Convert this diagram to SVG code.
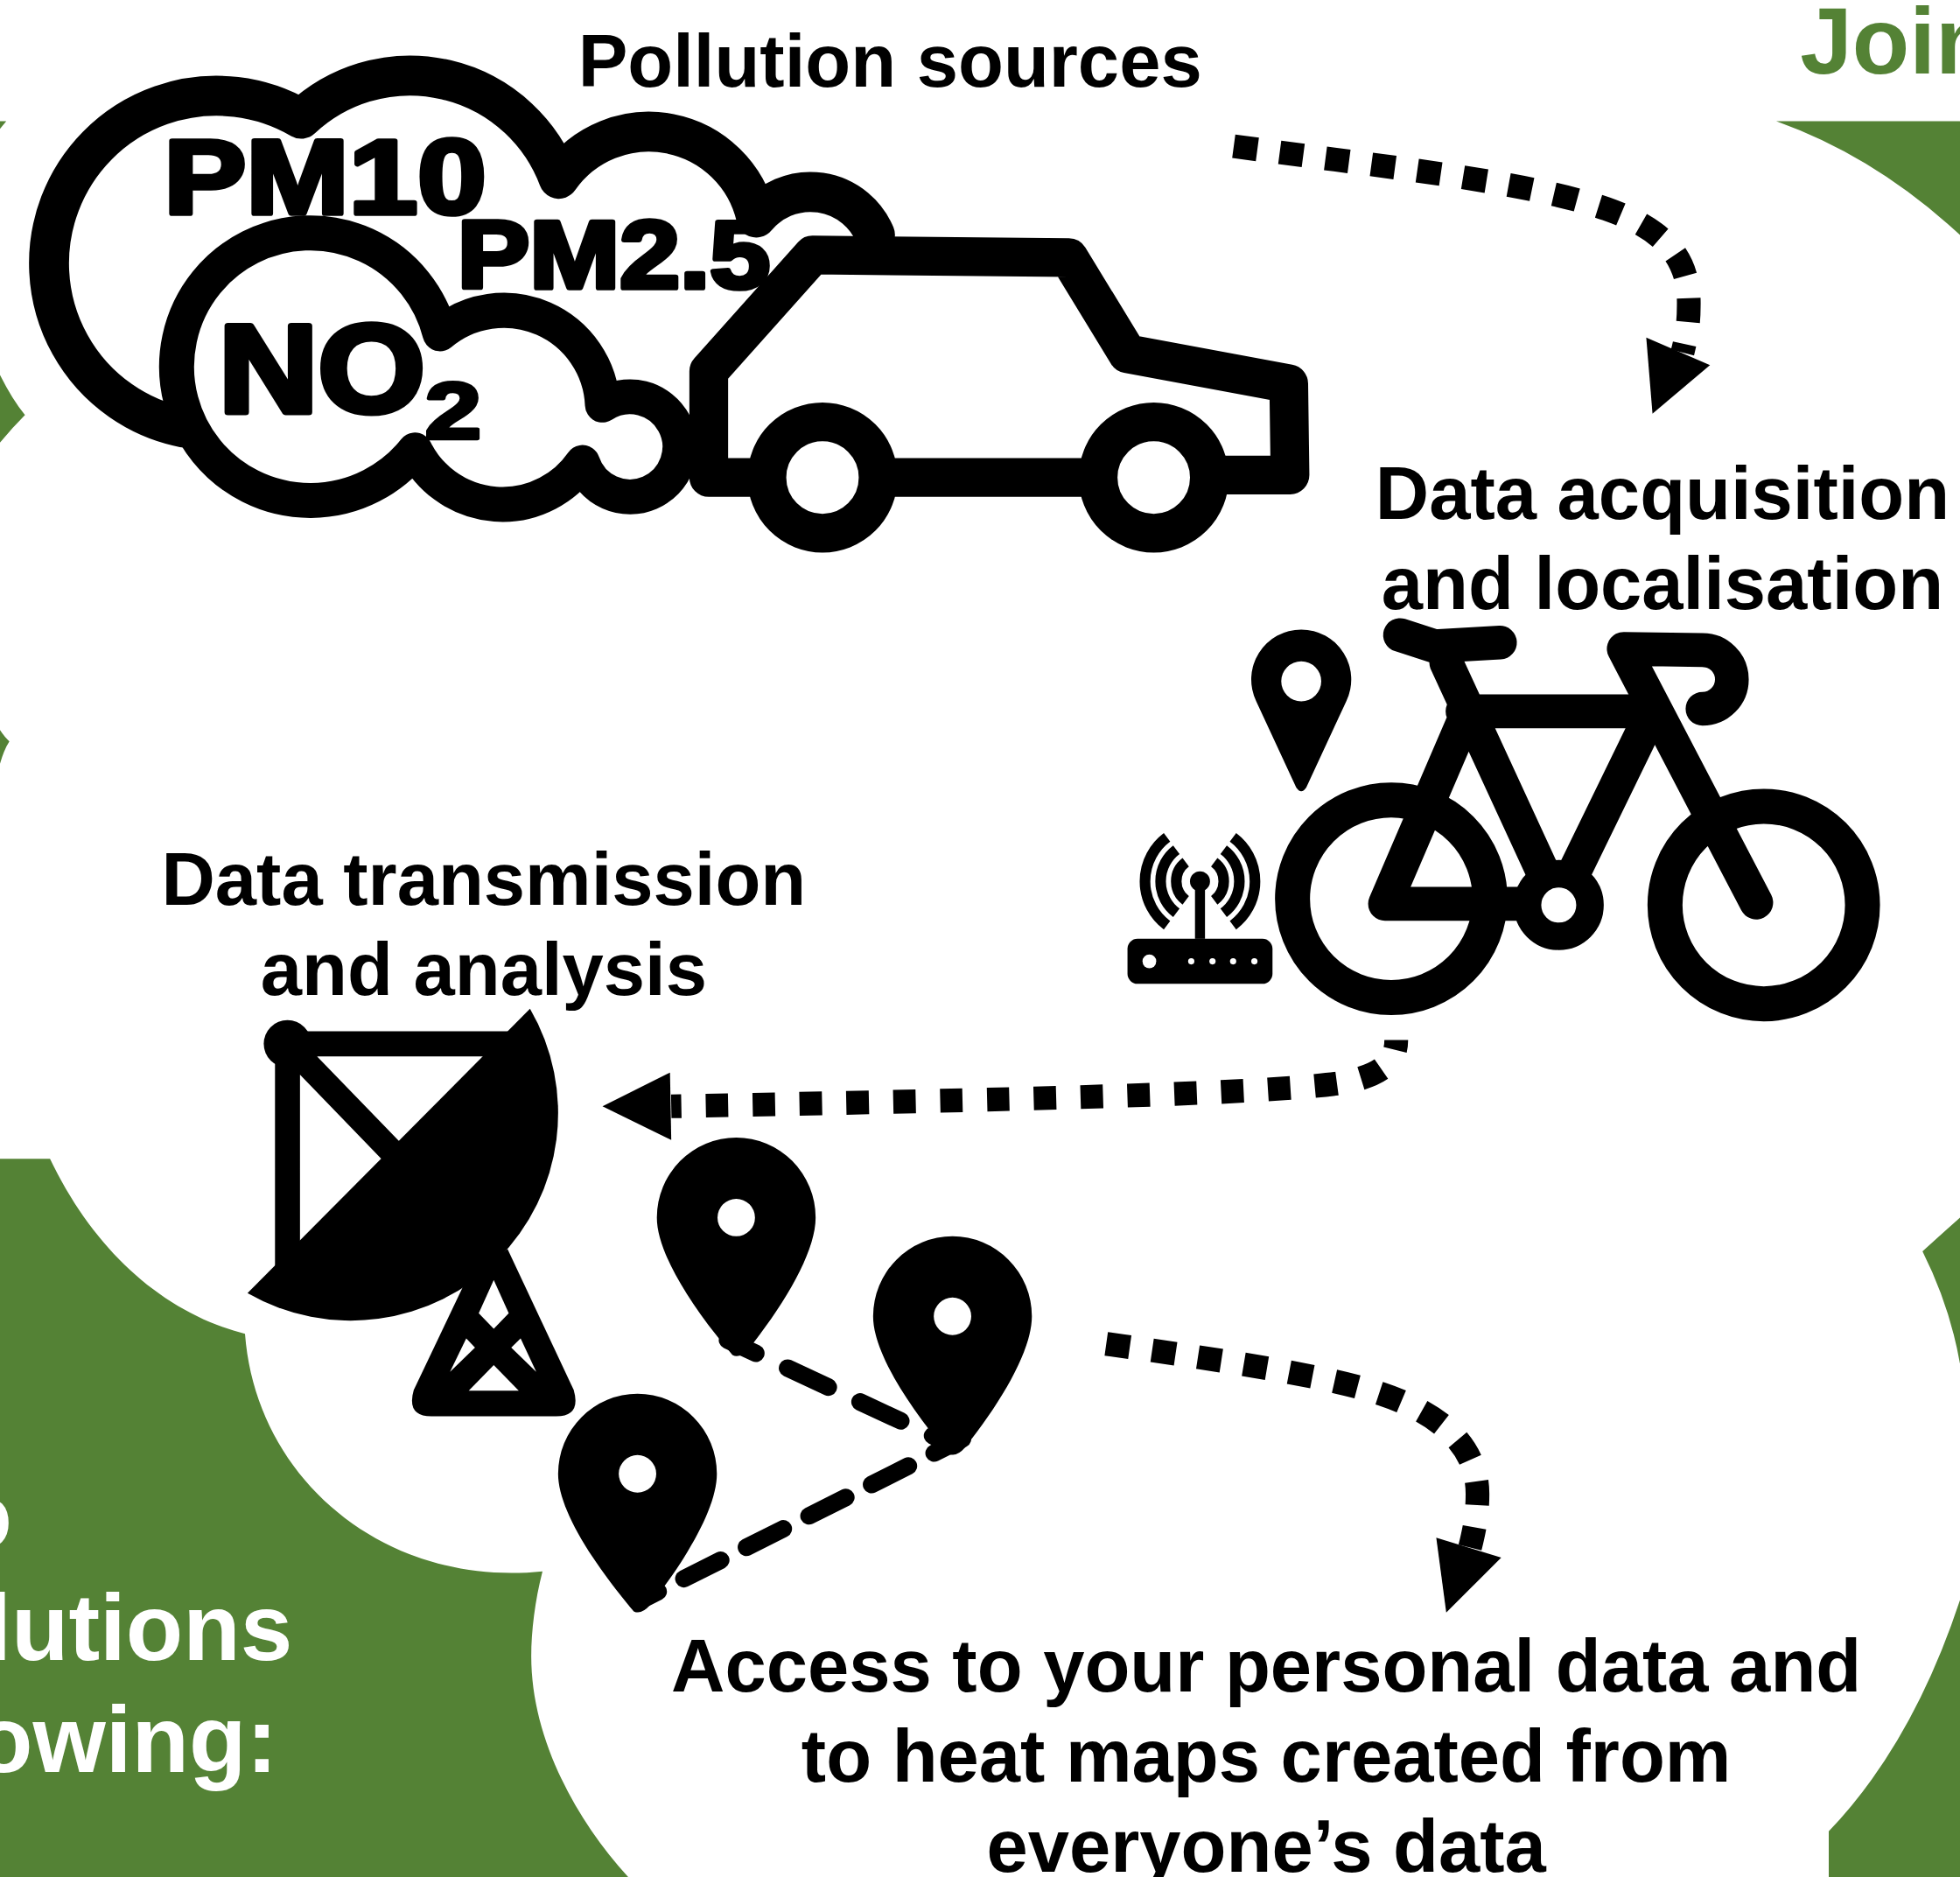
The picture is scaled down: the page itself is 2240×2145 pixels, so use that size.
<svg xmlns="http://www.w3.org/2000/svg" xmlns:xlink="http://www.w3.org/1999/xlink" width="2240" height="2145" viewBox="0 0 2240 2145">
<style>
text{font-family:"Liberation Sans",Arial,sans-serif;font-weight:700}
.lbl{font-size:59.5px;fill:#000;text-anchor:middle}
.head{font-size:75px}
.gas{fill:#000;stroke:#000;stroke-linejoin:round}
.g{fill:#548235}
.k{fill:#000}
.w{fill:#fff}
.ln{fill:none;stroke:#000;stroke-linecap:round;stroke-linejoin:round}
.dot{fill:none;stroke:#000;stroke-width:19;stroke-dasharray:19 18}
.dash{fill:none;stroke:#000;stroke-width:14;stroke-linecap:round}
</style>
<defs>
<path id="pin" fill="#000" fill-rule="evenodd" d="M-63.500 0A63.500 64 0 0 1 63.500 0C63.500 26 41 66 10 105Q3 113 -3 110C-40 66 -63.500 26 -63.500 0ZM15 0A15 15 0 1 0 -15 0A15 15 0 1 0 15 0Z"/>
</defs>
<rect width="2240" height="2145" fill="#fff"/>
<g transform="scale(1.42857)">
<g id="background">
<path class="g" d="M1421 97H1568V188Q1500 125 1421 97Z"/>
<path class="g" d="M1568 974Q1550 990 1538 1001Q1560 1045 1568 1091Z"/>
<path class="g" d="M1568 1280Q1530 1395 1463 1465V1502H1568Z"/>
<path class="g" d="M0 97H5L0 103Z"/>
<path class="g" d="M0 300Q10 320 20 332Q10 342 0 354Z"/>
<path class="g" d="M0 584Q4 590 7.500 593Q3 600 0 611Z"/>
<path class="g" d="M0 927H40C75 1000 130 1050 196 1067C205 1185 310 1270 434 1257C428 1280 425 1305 425 1325C425 1390 460 1455 503 1502H0Z"/>
<text class="head" x="1440" y="58.800" fill="#548235">Join</text>
<text class="head" x="-36" y="1238.500" fill="#fff">o</text>
<text class="head" x="234" y="1328" fill="#fff" text-anchor="end">lutions</text>
<text class="head" x="222" y="1417.500" fill="#fff" text-anchor="end">owing:</text>
</g>
<g id="pollution-sources">
<text class="lbl" x="712" y="69">Pollution sources</text>
<path class="ln" stroke-width="32" d="M147 342A134 134 0 1 1 241 95A127 127 0 0 1 447 143A88 88 0 0 1 605 174A56 56 0 0 1 700 188"/>
<path class="ln" style="fill:#fff" stroke-width="28" d="M332 360A78 78 0 0 0 466 370A40 40 0 1 0 482 324A79 79 0 0 0 352 267A107 107 0 1 0 332 360Z"/>
<text class="gas" stroke-width="4" x="131" y="170.500" font-size="84" textLength="258" lengthAdjust="spacingAndGlyphs">PM10</text>
<text class="gas" stroke-width="4" x="366" y="230" font-size="76" textLength="250" lengthAdjust="spacingAndGlyphs">PM2.5</text>
<text class="gas" stroke-width="5" x="175" y="329.500" font-size="100" textLength="165" lengthAdjust="spacingAndGlyphs">NO</text>
<text class="gas" stroke-width="3" x="340" y="350.500" font-size="63" textLength="45" lengthAdjust="spacingAndGlyphs">2</text>
<path class="ln" stroke-width="31" d="M600 382H567V297L650 204L855 206L902 283L1031 307L1032 380H980M865 382H715"/>
<circle class="ln" style="fill:#fff" stroke-width="31" cx="658" cy="382" r="44.500"/>
<circle class="ln" style="fill:#fff" stroke-width="31" cx="923" cy="382" r="44.500"/>
</g>
<g id="data-acquisition">
<text class="lbl" x="1330" y="415">Data acquisition</text>
<text class="lbl" x="1330" y="487">and localisation</text>
<path class="k" fill-rule="evenodd" d="M1005 561A40 40 0 1 1 1077 561L1045 630Q1041 636 1037 630ZM1057 545A16 16 0 1 0 1025 545A16 16 0 1 0 1057 545Z"/>
<g id="router">
<rect class="k" x="902" y="751" width="116" height="36" rx="8"/>
<circle class="w" cx="919.500" cy="769" r="5.500"/>
<circle class="w" cx="953" cy="769" r="2.500"/>
<circle class="w" cx="970" cy="769" r="2.500"/>
<circle class="w" cx="986.500" cy="769" r="2.500"/>
<circle class="w" cx="1003.500" cy="769" r="2.500"/>
<rect class="k" x="956" y="705" width="8" height="46"/>
<circle class="k" cx="960" cy="705" r="8"/>
<g fill="none" stroke="#000" stroke-width="8.500">
<path d="M933.600 669.800A44 44 0 0 0 933.600 740.200M941.100 679.800A31.500 31.500 0 0 0 941.100 730.200M948.600 689.800A19 19 0 0 0 948.600 720.200"/>
<path d="M986.400 669.800A44 44 0 0 1 986.400 740.200M978.900 679.800A31.500 31.500 0 0 1 978.900 730.200M971.400 689.800A19 19 0 0 1 971.400 720.200"/>
</g>
</g>
<g id="bicycle">
<circle class="ln" stroke-width="28" cx="1113" cy="719" r="79"/>
<circle class="ln" stroke-width="28" cx="1411" cy="724" r="79"/>
<path class="ln" stroke-width="27" d="M1157 530L1246 723H1108L1172 574M1170 569L1322 569L1247 723"/>
<path class="ln" stroke-width="27" d="M1405 722L1299 519L1362 520A23.500 23.500 0 0 1 1362 567"/>
<path class="ln" stroke-width="27" d="M1120 508L1148 517L1200 514"/>
<circle cx="1247" cy="724" r="25" fill="#fff" stroke="#000" stroke-width="22"/>
</g>
</g>
<g id="data-transmission">
<text class="lbl" x="387" y="724">Data transmission</text>
<text class="lbl" x="387" y="796">and analysis</text>
<g id="tower">
<path class="k" d="M371 1028L331 1112Q325 1133 345 1133H445Q465 1133 459 1112L406 999Z"/>
<path class="w" d="M395 1024L383 1050.500L395 1063L407 1050.500Z"/>
<path class="w" d="M375 1112.500L395 1092L415 1112.500Z"/>
<path class="w" d="M373 1070.600L380 1078L360 1097.400Z"/>
<path class="w" d="M416.500 1070.600L409 1078L429 1097.400Z"/>
</g>
<g id="dish">
<path class="ln" stroke-width="20" d="M230 1020V835H410M230 835L320 928"/>
<circle class="k" cx="230" cy="835" r="19"/>
<path class="k" d="M424 807A166 166 0 0 1 198 1034.500Z"/>
</g>
</g>
<g id="map-pins">
<use id="pin-a" xlink:href="#pin" href="#pin" x="589" y="974"/>
<use id="pin-b" xlink:href="#pin" href="#pin" x="762" y="1053"/>
<use id="pin-c" xlink:href="#pin" href="#pin" x="510" y="1179"/>
</g>
<g id="access-data">
<text class="lbl" x="1013" y="1353">Access to your personal data and</text>
<text class="lbl" x="1013" y="1425">to heat maps created from</text>
<text class="lbl" x="1013" y="1497">everyone’s data</text>
</g>
<g id="connectors">
<path class="dot" d="M987 117C1120 135 1220 145 1285 167C1330 183 1352 205 1351 245C1351 260 1349 270 1346 282"/>
<path class="k" d="M1317 270L1368 292L1322 331Z"/>
<path class="dot" style="stroke-dasharray:18 19.5" stroke-dashoffset="10" d="M537 885C800 880 1020 875 1075 866C1105 860 1117 850 1117 832"/>
<path class="k" d="M482 885L536 858L537 912Z"/>
<path class="dot" d="M885 1075C970 1087 1060 1100 1105 1115C1150 1130 1182 1155 1182 1195C1182 1210 1180 1222 1176 1238"/>
<path class="k" d="M1149 1230L1201 1246L1157 1290Z"/>
<path class="dash" stroke-dasharray="36 28" stroke-dashoffset="11" d="M582 1072L760 1155"/>
<path class="dash" stroke-dasharray="33 23" stroke-dashoffset="14.500" d="M510 1281.500L770 1151"/>
</g>
</g>
</svg>
